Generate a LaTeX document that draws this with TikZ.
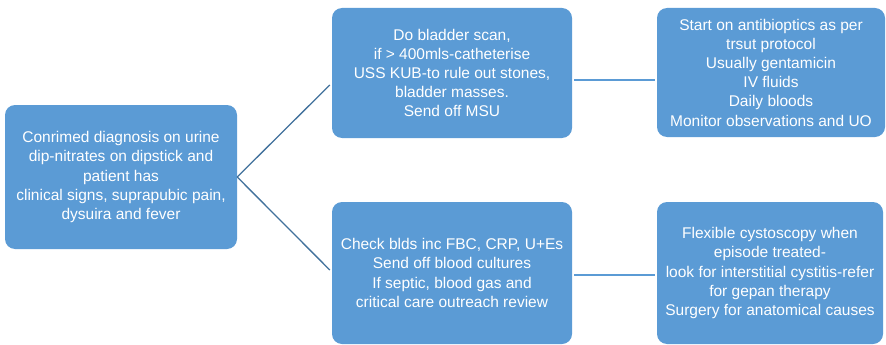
\documentclass[tikz,border=0pt]{standalone}
\usepackage{fontspec}
\setmainfont{Liberation Sans}
\definecolor{boxblue}{HTML}{5B9BD5}
\definecolor{linedark}{HTML}{41719C}
\begin{document}
\begin{tikzpicture}[x=1pt,y=-1pt,
  box/.style={fill=boxblue, draw=none, rounded corners=10pt, text=white,
    align=center, inner sep=0pt, font=\fontsize{15.5}{19.2}\selectfont},
  diag/.style={draw=linedark, line width=1.3pt},
  horiz/.style={draw=boxblue, line width=2.2pt}]
\useasboundingbox (0,0) rectangle (886,345);
\node[box, minimum width=232pt, minimum height=144pt] (L) at (121,177)
  {Conrimed diagnosis on urine\\dip-nitrates on dipstick and\\patient has\\clinical signs, suprapubic pain,\\dysuira and fever};
\node[box, minimum width=240pt, minimum height=130pt] (MT) at (452,73)
  {Do bladder scan,\\if > 400mls-catheterise\\USS KUB-to rule out stones,\\bladder masses.\\Send off MSU};
\node[box, minimum width=240pt, minimum height=142pt] (MB) at (452,273)
  {Check blds inc FBC, CRP, U+Es\\Send off blood cultures\\If septic, blood gas and\\critical care outreach review};
\node[box, minimum width=228pt, minimum height=129pt] (RT) at (771,72.5)
  {Start on antibioptics as per\\trsut protocol\\Usually gentamicin\\IV fluids\\Daily bloods\\Monitor observations and UO};
\node[box, minimum width=226pt, minimum height=142pt] (RB) at (770,273)
  {Flexible cystoscopy when\\episode treated-\\look for interstitial cystitis-refer\\for gepan therapy\\Surgery for anatomical causes};
\draw[diag] (L.east) -- ([xshift=-2pt,yshift=-12pt]MT.west);
\draw[diag] (L.east) -- ([xshift=-2pt,yshift=3pt]MB.west);
\draw[horiz] ([xshift=2pt,yshift=-7pt]MT.east) -- ([xshift=-2pt,yshift=-7.5pt]RT.west);
\draw[horiz] ([xshift=2pt,yshift=-2pt]MB.east) -- ([xshift=-2pt,yshift=-2pt]RB.west);
\end{tikzpicture}
\end{document}
